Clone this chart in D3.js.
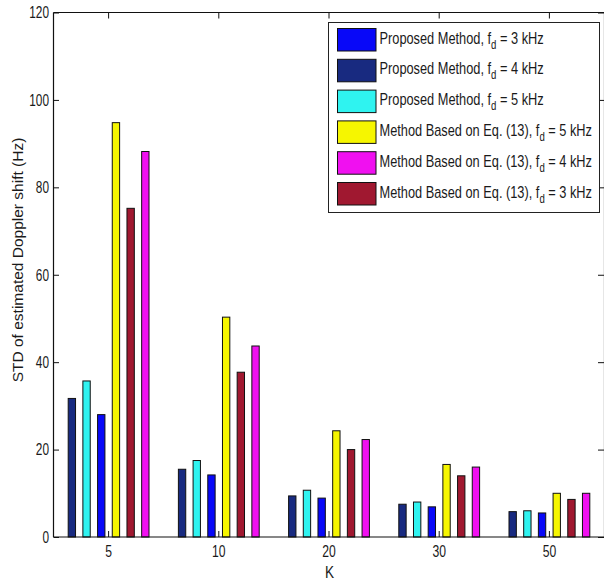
<!DOCTYPE html>
<html>
<head>
<meta charset="utf-8">
<script src="https://cdn.jsdelivr.net/npm/d3@7/dist/d3.min.js"></script>
<style>
  html, body { margin: 0; padding: 0; background: #fff; }
  svg { display: block; }
  text { font-family: "Liberation Sans", Arial, sans-serif; fill: #1a1a1a; }
</style>
</head>
<body>
<svg id="chart" width="604" height="582"></svg>
<script>
// ---------------- data ----------------
const categories = ["5", "10", "20", "30", "50"];
const yTicks = [0, 20, 40, 60, 80, 100, 120];

// series in the order they are drawn inside each group
const seriesKeys = ["prop4", "prop5", "prop3", "eq5", "eq3", "eq4"];
const prop4 = [31.7, 15.5, 9.4, 7.5, 5.8];
const prop5 = [35.7, 17.5, 10.7, 8.0, 6.0];
const prop3 = [28.0, 14.2, 8.9, 6.9, 5.5];
const eq5   = [94.8, 50.3, 24.3, 16.6, 10.0];
const eq3   = [75.2, 37.7, 20.0, 14.0, 8.6];
const eq4   = [88.2, 43.7, 22.3, 16.0, 10.0];

// legend order and labels
const legendKeys = ["prop3", "prop4", "prop5", "eq5", "eq4", "eq3"];
const legendPrefix = ["Proposed Method, f", "Proposed Method, f", "Proposed Method, f",
                      "Method Based on Eq. (13), f", "Method Based on Eq. (13), f", "Method Based on Eq. (13), f"];
const legendSub = ["d", "d", "d", "d", "d", "d"];
const legendSuffix = [" = 3 kHz", " = 4 kHz", " = 5 kHz", " = 5 kHz", " = 4 kHz", " = 3 kHz"];

const yLabel = "STD of estimated Doppler shift (Hz)";
const xLabel = "K";

// ---------------- styles ----------------
const colors = {
  prop4: "#182a80",
  prop5: "#2ff3f0",
  prop3: "#0808f8",
  eq5:   "#f6f600",
  eq3:   "#a01830",
  eq4:   "#f010f0"
};

const values = { prop4, prop5, prop3, eq5, eq3, eq4 };
const table = categories.map((c, i) => {
  const row = { cat: c };
  seriesKeys.forEach(k => row[k] = values[k][i]);
  return row;
});

// ---------------- layout ----------------
const svg = d3.select("#chart");
const pLeft = 53.5, pRight = 604.5, pTop = 12.5, pBottom = 537;

const x0 = d3.scaleBand().domain(categories).range([pLeft, pRight])
  .paddingInner(0.2).paddingOuter(0.1);
const x1 = d3.scaleBand().domain(seriesKeys).range([0, x0.bandwidth()])
  .paddingInner(0.5).paddingOuter(0.25);
const y = d3.scaleLinear().domain([0, 120]).range([pBottom, pTop]);

function sqText(sel, x, yy, sx) {
  return sel.attr("transform", `translate(${x},${yy}) scale(${sx},1)`);
}

// bars
const groups = svg.append("g").selectAll("g").data(table).join("g")
  .attr("transform", d => `translate(${x0(d.cat)},0)`);
groups.selectAll("rect")
  .data(d => seriesKeys.map(k => ({ key: k, value: d[k] })))
  .join("rect")
  .attr("x", d => x1(d.key))
  .attr("width", x1.bandwidth())
  .attr("y", d => y(d.value))
  .attr("height", d => y(0) - y(d.value))
  .attr("fill", d => colors[d.key])
  .attr("stroke", "#111")
  .attr("stroke-width", 1);

// axes frame
const axisColor = "#111";
const frame = svg.append("g").attr("stroke", axisColor).attr("stroke-width", 1.2).attr("fill", "none");
frame.append("line").attr("x1", pLeft).attr("x2", pRight).attr("y1", pBottom).attr("y2", pBottom);
frame.append("line").attr("x1", pLeft).attr("x2", pRight).attr("y1", pTop).attr("y2", pTop);
frame.append("line").attr("x1", pLeft).attr("x2", pLeft).attr("y1", pTop).attr("y2", pBottom);
frame.append("line").attr("x1", pRight).attr("x2", pRight).attr("y1", pTop).attr("y2", pBottom);

// y ticks (inward, both sides) + labels
const yAxisL = d3.axisLeft(y).tickValues(yTicks).tickSize(-5.5).tickFormat("");
const yAxisR = d3.axisRight(y).tickValues(yTicks).tickSize(-6.5).tickFormat("");
const gL = svg.append("g").attr("transform", `translate(${pLeft},0)`).call(yAxisL);
const gR = svg.append("g").attr("transform", `translate(${pRight},0)`).call(yAxisR);
[gL, gR].forEach(g => {
  g.select(".domain").remove();
  g.selectAll(".tick line").attr("stroke", axisColor).attr("stroke-width", 1);
});
svg.append("g").selectAll("text").data(yTicks).join("text")
  .attr("text-anchor", "end")
  .style("font-size", "16px")
  .attr("dy", "0.36em")
  .text(d => d)
  .each(function(d) { sqText(d3.select(this), 49, y(d), 0.74); });

// x ticks (inward, bottom and top) + labels
const xCenter = c => x0(c) + x0.bandwidth() / 2;
const xAxisB = d3.axisBottom(x0).tickSize(-6).tickFormat("");
const xAxisT = d3.axisTop(x0).tickSize(-6).tickFormat("");
const gB = svg.append("g").attr("transform", `translate(0,${pBottom})`).call(xAxisB);
const gT = svg.append("g").attr("transform", `translate(0,${pTop})`).call(xAxisT);
[gB, gT].forEach(g => {
  g.select(".domain").remove();
  g.selectAll(".tick line").attr("stroke", axisColor).attr("stroke-width", 1);
});
svg.append("g").selectAll("text").data(categories).join("text")
  .attr("text-anchor", "middle")
  .style("font-size", "16px")
  .text(d => d)
  .each(function(d) { sqText(d3.select(this), xCenter(d), 557, 0.76); });

// axis labels
sqText(svg.append("text").attr("text-anchor", "middle").style("font-size", "16px").text(xLabel),
  (pLeft + pRight) / 2 + 0.5, 578, 0.85);
svg.append("text")
  .attr("text-anchor", "middle")
  .style("font-size", "15.5px")
  .attr("transform", "translate(23,260) rotate(-90)")
  .text(yLabel);

// legend
const lg = svg.append("g");
lg.append("rect").attr("x", 328.5).attr("y", 22.5).attr("width", 271).attr("height", 190)
  .attr("fill", "#fff").attr("stroke", "#222").attr("stroke-width", 1);
const rowStep = 30.8;
legendKeys.forEach((k, i) => {
  const yy = 28.5 + i * rowStep;
  lg.append("rect").attr("x", 337.5).attr("y", yy).attr("width", 38.5).attr("height", 22.5)
    .attr("fill", colors[k]).attr("stroke", "#111").attr("stroke-width", 1);
  const t = lg.append("text").style("font-size", "16px");
  t.append("tspan").text(legendPrefix[i]);
  t.append("tspan").attr("dy", 5).style("font-size", "12px").text(legendSub[i]);
  t.append("tspan").attr("dy", -5).text(legendSuffix[i]);
  sqText(t, 379.5, yy + 15, 0.8);
});
</script>
</body>
</html>
